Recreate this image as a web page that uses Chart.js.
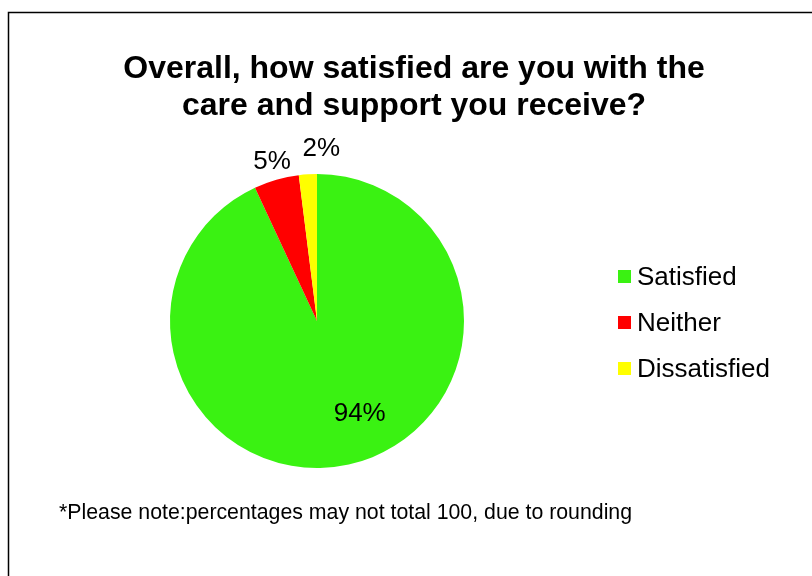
<!DOCTYPE html>
<html>
<head>
<meta charset="utf-8">
<script src="https://cdn.jsdelivr.net/npm/chart.js@4"></script>
<style>
  html, body { margin: 0; padding: 0; background: #ffffff; }
  #wrap { width: 812px; height: 576px; position: relative; }
</style>
</head>
<body>
<div id="wrap"><canvas id="c" width="812" height="576"></canvas></div>
<script>
// ---- data ----
const categories = ['Satisfied', 'Neither', 'Dissatisfied'];
const values = [94, 5, 2];
const valueLabels = ['94%', '5%', '2%'];
const titleLines = ['Overall, how satisfied are you with the', 'care and support you receive?'];
const footnote = '*Please note:percentages may not total 100, due to rounding';

// ---- styles ----
const sliceColors = ['#3AF212', '#FF0000', '#FFFF00'];
const FONT = '"Liberation Sans", Arial, Helvetica, sans-serif';
// label placement: radius factor of outer radius at the slice mid-angle, plus small nudge
const labelRadius = [0.62, 1.13, 1.18];
const labelNudge = [[23, 4], [1, 0], [15, 1]];

const framePlugin = {
  id: 'frame',
  beforeDraw(chart) {
    const ctx = chart.ctx;
    ctx.save();
    ctx.fillStyle = '#ffffff';
    ctx.fillRect(0, 0, chart.width, chart.height);
    ctx.strokeStyle = '#000000';
    ctx.lineWidth = 1.5;
    ctx.beginPath();
    ctx.moveTo(8.5, chart.height + 2);
    ctx.lineTo(8.5, 12.5);
    ctx.lineTo(chart.width + 2, 12.5);
    ctx.stroke();
    ctx.restore();
  }
};

const textPlugin = {
  id: 'texts',
  afterDraw(chart) {
    const ctx = chart.ctx;
    ctx.save();
    ctx.fillStyle = '#000000';
    // title
    ctx.font = 'bold 32px ' + FONT;
    ctx.textAlign = 'center';
    ctx.textBaseline = 'alphabetic';
    titleLines.forEach((t, i) => ctx.fillText(t, 414, 78 + i * 37));
    // footnote
    ctx.font = '21.3px ' + FONT;
    ctx.textAlign = 'left';
    ctx.fillText(footnote, 59, 519);
    // legend
    ctx.font = '26px ' + FONT;
    ctx.textBaseline = 'middle';
    categories.forEach((c, i) => {
      const cy = 276.5 + i * 46;
      ctx.fillStyle = sliceColors[i];
      ctx.fillRect(618, cy - 6.5, 13, 13);
      ctx.fillStyle = '#000000';
      ctx.fillText(c, 637, cy + 1);
    });
    // data labels
    const meta = chart.getDatasetMeta(0);
    ctx.font = '26px ' + FONT;
    ctx.textAlign = 'center';
    ctx.textBaseline = 'middle';
    meta.data.forEach((arc, i) => {
      const p = arc.getProps(['x', 'y', 'startAngle', 'endAngle', 'outerRadius'], true);
      const mid = (p.startAngle + p.endAngle) / 2;
      const r = p.outerRadius * labelRadius[i];
      const lx = p.x + Math.cos(mid) * r + labelNudge[i][0];
      const ly = p.y + Math.sin(mid) * r + labelNudge[i][1];
      ctx.fillText(valueLabels[i], lx, ly);
    });
    ctx.restore();
  }
};

new Chart(document.getElementById('c'), {
  type: 'pie',
  data: {
    labels: categories,
    datasets: [{
      data: values,
      backgroundColor: sliceColors,
      borderWidth: 0
    }]
  },
  options: {
    responsive: false,
    animation: false,
    layout: { padding: { left: 170, right: 348, top: 174, bottom: 108 } },
    plugins: {
      legend: { display: false },
      title: { display: false },
      tooltip: { enabled: false }
    }
  },
  plugins: [framePlugin, textPlugin]
});
</script>
</body>
</html>
